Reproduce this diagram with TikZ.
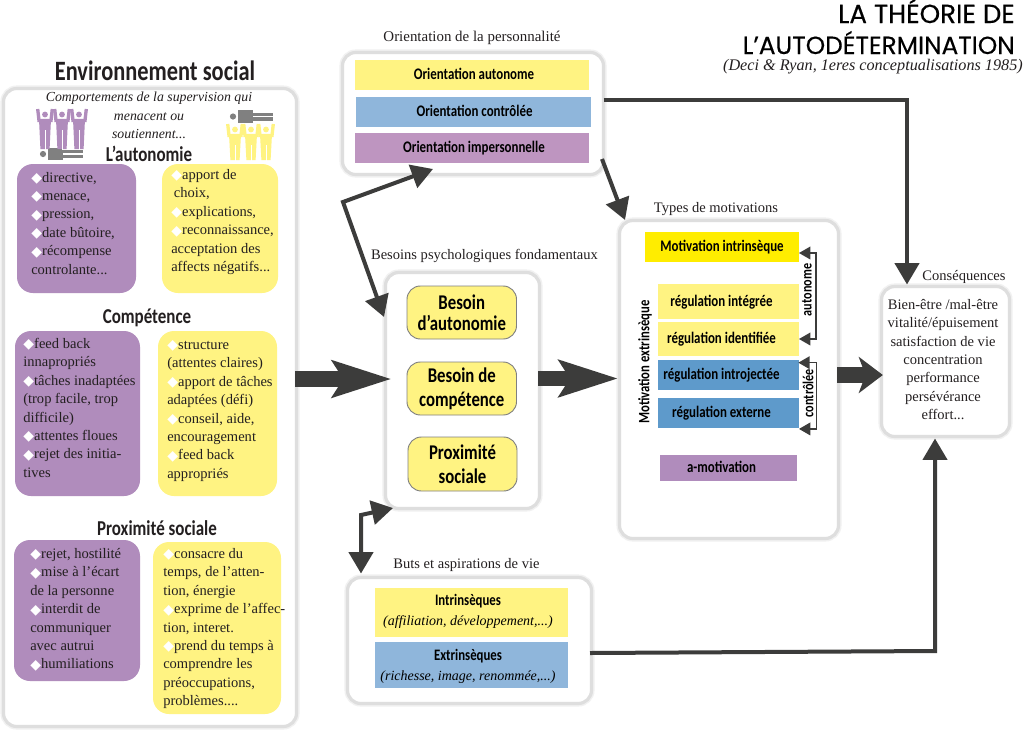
\documentclass[tikz,border=0pt]{standalone}
\usepackage{fontspec}
\usetikzlibrary{arrows.meta,calc}
\setmainfont{Liberation Serif}
\newfontfamily\cbf[FakeStretch=0.8]{Carlito}
\newfontfamily\titlef[FakeBold=0.35]{Poppins}
\newfontfamily\dejav{DejaVu Sans}
\definecolor{ink}{HTML}{231F20}
\definecolor{dark}{HTML}{3C3C3B}
\definecolor{halo}{HTML}{DEDEDE}
\definecolor{halofade}{HTML}{F1F1F1}
\definecolor{pur}{HTML}{B08CBC}
\definecolor{pur2}{HTML}{BE95C0}
\definecolor{yel}{HTML}{FFF382}
\definecolor{yel2}{HTML}{FFED00}
\definecolor{blu}{HTML}{8FB6DB}
\definecolor{blu2}{HTML}{5E9ACB}
\definecolor{gris}{HTML}{808080}
\newcommand{\dia}{\strut\makebox[8.2pt][l]{\color{white}\dejav\fontsize{10.5}{10.5}\selectfont\raisebox{-0.3pt}{\char"25C6}}}
\newcommand{\nod}{\strut}
\newcommand{\boxat}[7]{\node[#6,minimum width={(#4-#2)*0.75pt},minimum height={(#5-#3)*0.75pt}] (#1) at ({(#2+#4)/2},{(#3+#5)/2}) {#7};}
\newcommand{\panelat}[5]{\node[panel,minimum width={(#4-#2+3)*0.75pt},minimum height={(#5-#3+3)*0.75pt}] (#1) at ({(#2+#4)/2},{(#3+#5)/2}) {};}
% #1 centre x, #2 top y, #3 height, #4 colour
\newcommand{\personup}[4]{%
  \fill[#4] ({#1},{#2+5.5}) circle (2.9);
  \draw[#4,line width=2.5pt,line join=miter] ({#1-7.3},{#2}) -- ({#1-6},{#2+11.5}) -- ({#1+6},{#2+11.5}) -- ({#1+7.3},{#2});
  \fill[#4] ({#1-6},{#2+10}) -- ({#1+6},{#2+10}) -- ({#1+4.6},{#2+#3}) -- ({#1-4.6},{#2+#3}) -- cycle;
  \draw[white,line width=0.6pt] ({#1},{#2+21}) -- ({#1},{#2+#3+0.5});
}
% #1 head x, #2 centre y
\newcommand{\personflat}[2]{%
  \fill[gris] ({#1},{#2}) circle (3.1);
  \fill[gris] ({#1+5},{#2-6.5}) rectangle ({#1+20},{#2+6});
  \fill[gris] ({#1+19},{#2-4}) rectangle ({#1+40},{#2-0.6});
  \fill[gris] ({#1+19},{#2+0.6}) rectangle ({#1+40},{#2+4});
}
\tikzset{
  x=0.75pt,y=-0.75pt,
  panel/.style={preaction={draw=halofade,line width=4.6pt},draw=halo,line width=2.4pt,fill=white,rounded corners=10pt,inner sep=0pt,outer sep=0pt},
  listbox/.style={fill=#1,rounded corners=12pt,inner sep=0pt,outer sep=0pt},
  listtext/.style={anchor=north west,inner sep=0pt,align=left,text=ink,font=\fontsize{10.9}{13.8}\selectfont},
  caption/.style={inner sep=0pt,text=ink,font=\fontsize{10.9}{13.8}\selectfont},
  head/.style={inner sep=0pt,text=ink,font=\cbf\bfseries\fontsize{15.9}{18}\selectfont},
  bar/.style={fill=#1,inner sep=0pt,outer sep=0pt,text=black,align=center,text height=9.4pt,text depth=2.2pt,font=\cbf\bfseries\fontsize{12.1}{14}\selectfont},
  plate/.style={fill=#1,inner sep=0pt,outer sep=0pt},
  bartext/.style={inner sep=0pt,text=black,align=center,font=\cbf\bfseries\fontsize{12}{14}\selectfont},
  need/.style={fill=yel,draw=gris,line width=0.7pt,rounded corners=10pt,inner sep=0pt,outer sep=0pt,align=center,text=black,font=\cbf\bfseries\fontsize{15.7}{18}\selectfont},
  vert/.style={inner sep=0pt,rotate=90,text=black,font=\cbf\bfseries\fontsize{11.4}{13}\selectfont},
  thinlink/.style={draw=dark,line width=3pt},
  thinhead/.style={thinlink,-{Stealth[length=16pt,width=18pt,inset=0pt]}},
  thinboth/.style={thinlink,{Stealth[length=16pt,width=18pt,inset=0pt]}-{Stealth[length=16pt,width=18pt,inset=0pt]}},
  bighead/.style={draw=dark,line width=11.5pt,-{Stealth[length=44pt,width=27pt,inset=8pt]}},
  bracket/.style={draw=dark,line width=1.1pt,{Stealth[length=8.5pt,width=9.5pt,inset=0pt]}-{Stealth[length=8.5pt,width=9.5pt,inset=0pt]}},
}
\begin{document}
\begin{tikzpicture}
\fill[white] (0,0) rectangle (1024,747);
\useasboundingbox (0,0) rectangle (1024,747);

% title
\node[inner sep=0pt,anchor=base east,text=black,font=\titlef\fontsize{19.6}{19}\selectfont] (t1) at (1015,23) {LA THÉORIE DE};
\node[inner sep=0pt,anchor=base east,text=black,font=\titlef\fontsize{18.6}{19}\selectfont] (t2) at (1015,54) {L’AUTODÉTERMINATION};
\node[inner sep=0pt,anchor=base east,text=ink,font=\itshape\fontsize{12.15}{15}\selectfont] (t3) at (1023,70) {(Deci \& Ryan, 1eres conceptualisations 1985)};

% left panel
\node[inner sep=0pt,text=ink,font=\cbf\bfseries\fontsize{21}{22}\selectfont] (envtitle) at (155,71) {Environnement social};
\panelat{env}{5}{90}{295}{725}
\node[inner sep=0pt,text=ink,align=center,font=\itshape\fontsize{10.35}{13.8}\selectfont] (sup) at (149,115.5) {Comportements de la supervision qui\\menacent ou\\soutiennent...};

\personflat{43}{154}
\personup{45}{109}{40}{pur}
\personup{62}{109}{40}{pur}
\personup{79}{109}{40}{pur}
\personflat{233}{116.5}
\personup{235}{124}{36}{yel}
\personup{251}{124}{36}{yel}
\personup{266}{124}{36}{yel}

\node[head] (h1) at (149,154) {L’autonomie};
\boxat{p1}{17}{164}{136}{293}{listbox=pur}{}
\boxat{y1}{162}{164}{278}{293}{listbox=yel}{}
\node[listtext] (tp1) at (31,169) {\dia directive,\\\dia menace,\\\dia pression,\\\dia date bûtoire,\\\dia récompense\\\nod controlante...};
\node[listtext] (ty1) at (171,166.3) {\dia apport de\\\nod\hspace{2pt}choix,\\\dia explications,\\\dia reconnaissance,\\\nod acceptation des\\\nod affects négatifs...};

\node[head] (h2) at (147,318) {Compétence};
\boxat{p2}{15}{331}{140}{496}{listbox=pur}{}
\boxat{y2}{158}{331}{277}{496}{listbox=yel}{}
\node[listtext] (tp2) at (23,335.3) {\dia feed back\\\nod innapropriés\\\dia tâches inadaptées\\\nod (trop facile, trop\\\nod difficile)\\\dia attentes floues\\\dia rejet des initia-\\\nod tives};
\node[listtext] (ty2) at (167,336.3) {\dia structure\\\nod (attentes claires)\\\dia apport de tâches\\\nod adaptées (défi)\\\dia conseil, aide,\\\nod encouragement\\\dia feed back\\\nod appropriés};

\node[head] (h3) at (157,528) {Proximité sociale};
\boxat{p3}{14}{540}{140}{681}{listbox=pur}{}
\boxat{y3}{153}{542}{281}{714}{listbox=yel}{}
\node[listtext] (tp3) at (30,545.3) {\dia rejet, hostilité\\\dia mise à l’écart\\\nod de la personne\\\dia interdit de\\\nod communiquer\\\nod avec autrui\\\dia humiliations};
\node[listtext] (ty3) at (163,545.3) {\dia consacre du\\\nod temps, de l’atten-\\\nod tion, énergie\\\dia exprime de l’affec-\\\nod tion, interet.\\\dia prend du temps à\\\nod comprendre les\\\nod préoccupations,\\\nod problèmes....};

% orientation
\node[caption,font=\fontsize{11.2}{13.8}\selectfont] (c1) at (472,38) {Orientation de la personnalité};
\panelat{orient}{344}{54}{602}{173}
\boxat{oa}{355}{60}{589}{90}{bar=yel}{\kern3pt Orientation autonome}
\boxat{oc}{356}{97}{590.5}{127}{bar=blu}{\kern2pt Orientation contrôlée}
\boxat{oi}{355}{133}{589}{163}{bar=pur2}{\kern3pt Orientation impersonnelle}

% besoins
\node[caption] (c2) at (484.5,256) {Besoins psychologiques fondamentaux};
\panelat{bes}{387}{274}{538}{507}
\boxat{n1}{407}{286}{516.5}{339}{need}{Besoin\\[-2pt]d’autonomie}
\boxat{n2}{407}{362}{516.5}{415}{need}{Besoin de\\compétence}
\boxat{n3}{408}{437}{517}{491}{need}{Proximité\\sociale}

% buts
\node[caption] (c3) at (466.5,565) {Buts et aspirations de vie};
\panelat{buts}{349}{579}{590}{702}
\boxat{bi}{375}{588}{568}{637}{plate=yel}{}
\boxat{be}{375}{642}{568}{688}{plate=blu}{}
\node[bartext] (bit) at (468,611.5) {Intrinsèques\\[1pt]{\rmfamily\mdseries\itshape\fontsize{10.5}{13}\selectfont (affiliation, développement,...)}};
\node[bartext] (bet) at (468,666) {Extrinsèques\\[1pt]{\rmfamily\mdseries\itshape\fontsize{10.5}{13}\selectfont (richesse, image, renommée,...)}};

% motivations
\node[caption] (c4) at (716,209) {Types de motivations};
\panelat{mot}{621}{222}{837}{537}
\boxat{m0}{645}{232}{799}{262}{bar=yel2}{Motivation intrinsèque}
\boxat{m1}{658}{284}{799}{319}{bar=yel}{régulation intégrée\kern10.5pt}
\boxat{m2}{658}{322}{799}{356}{bar=yel}{régulation identifiée\kern10.5pt}
\boxat{m3}{658}{360}{799}{390}{bar=blu2}{régulation introjectée\kern10.5pt}
\boxat{m4}{658}{398}{799}{428}{bar=blu2}{régulation externe\kern10.5pt}
\boxat{m5}{660}{455}{797}{481}{bar=pur}{a-motivation\kern10.5pt}
\node[vert,font=\cbf\bfseries\fontsize{11.9}{13}\selectfont] (vm) at (645,362) {Motivation extrinsèque};
\node[vert] (va) at (807,290) {autonome};
\node[vert] (vc) at (808,393) {contrôlée};

% conséquences
\node[caption] (c5) at (964,277) {Conséquences};
\panelat{cons}{883}{288}{1008}{435}
\node[inner sep=0pt,align=center,text=ink,font=\fontsize{10.9}{13.8}\selectfont] (ct) at (943,359.5) {Bien-être /mal-être\\vitalité/épuisement\\satisfaction de vie\\concentration\\performance\\persévérance\\effort...};

% connectors
\coordinate (k1) at (907,100);
\coordinate (k2) at (343,202);
\coordinate (k3) at (361,515);
\coordinate (k4) at (935,651);
\coordinate (k5) at (0,379);
\coordinate (k6) at (0,378.5);
\coordinate (k7) at (0,375);
\draw[bighead] ([xshift=-1.1pt]env.east |- k5) -- ([xshift=4.5pt]bes.west |- k5);
\draw[bighead] ([xshift=-1.1pt]bes.east |- k6) -- ([xshift=-1pt]mot.west |- k6);
\draw[bighead,line width=11.5pt,-{Stealth[length=18pt,width=27pt,inset=5pt]}] ([xshift=-1.1pt]mot.east |- k7) -- ([xshift=1pt]cons.west |- k7);
\draw[thinhead] (orient.east |- k1) -- (k1) -- ([yshift=1.5pt]cons.north -| k1);
\coordinate (o2) at (602,159);
\coordinate (o3) at (625,220);
\draw[thinhead] (o2) -- (o3);
\coordinate (d1) at (433,169);
\coordinate (d2) at (384,317);
\draw[thinboth] (d1) -- (k2) -- (d2);
\coordinate (d3) at (393,508);
\draw[thinboth] (d3) -- (k3) -- ([yshift=3pt]buts.north -| k3);
\coordinate (b1) at (590,653);
\draw[thinhead] (b1) -- (k4) -- ([yshift=-1.5pt]cons.south -| k4);
\draw[bracket,rounded corners=0pt] ([yshift=-4.5pt]m0.east) -- ++(17,0) |- (m2.east);
\draw[bracket,rounded corners=0pt] ([yshift=-2pt,xshift=-0.5pt]m3.north east) -- ++(18,0) |- ([yshift=-0.7pt]m4.south east);
\end{tikzpicture}
\end{document}
